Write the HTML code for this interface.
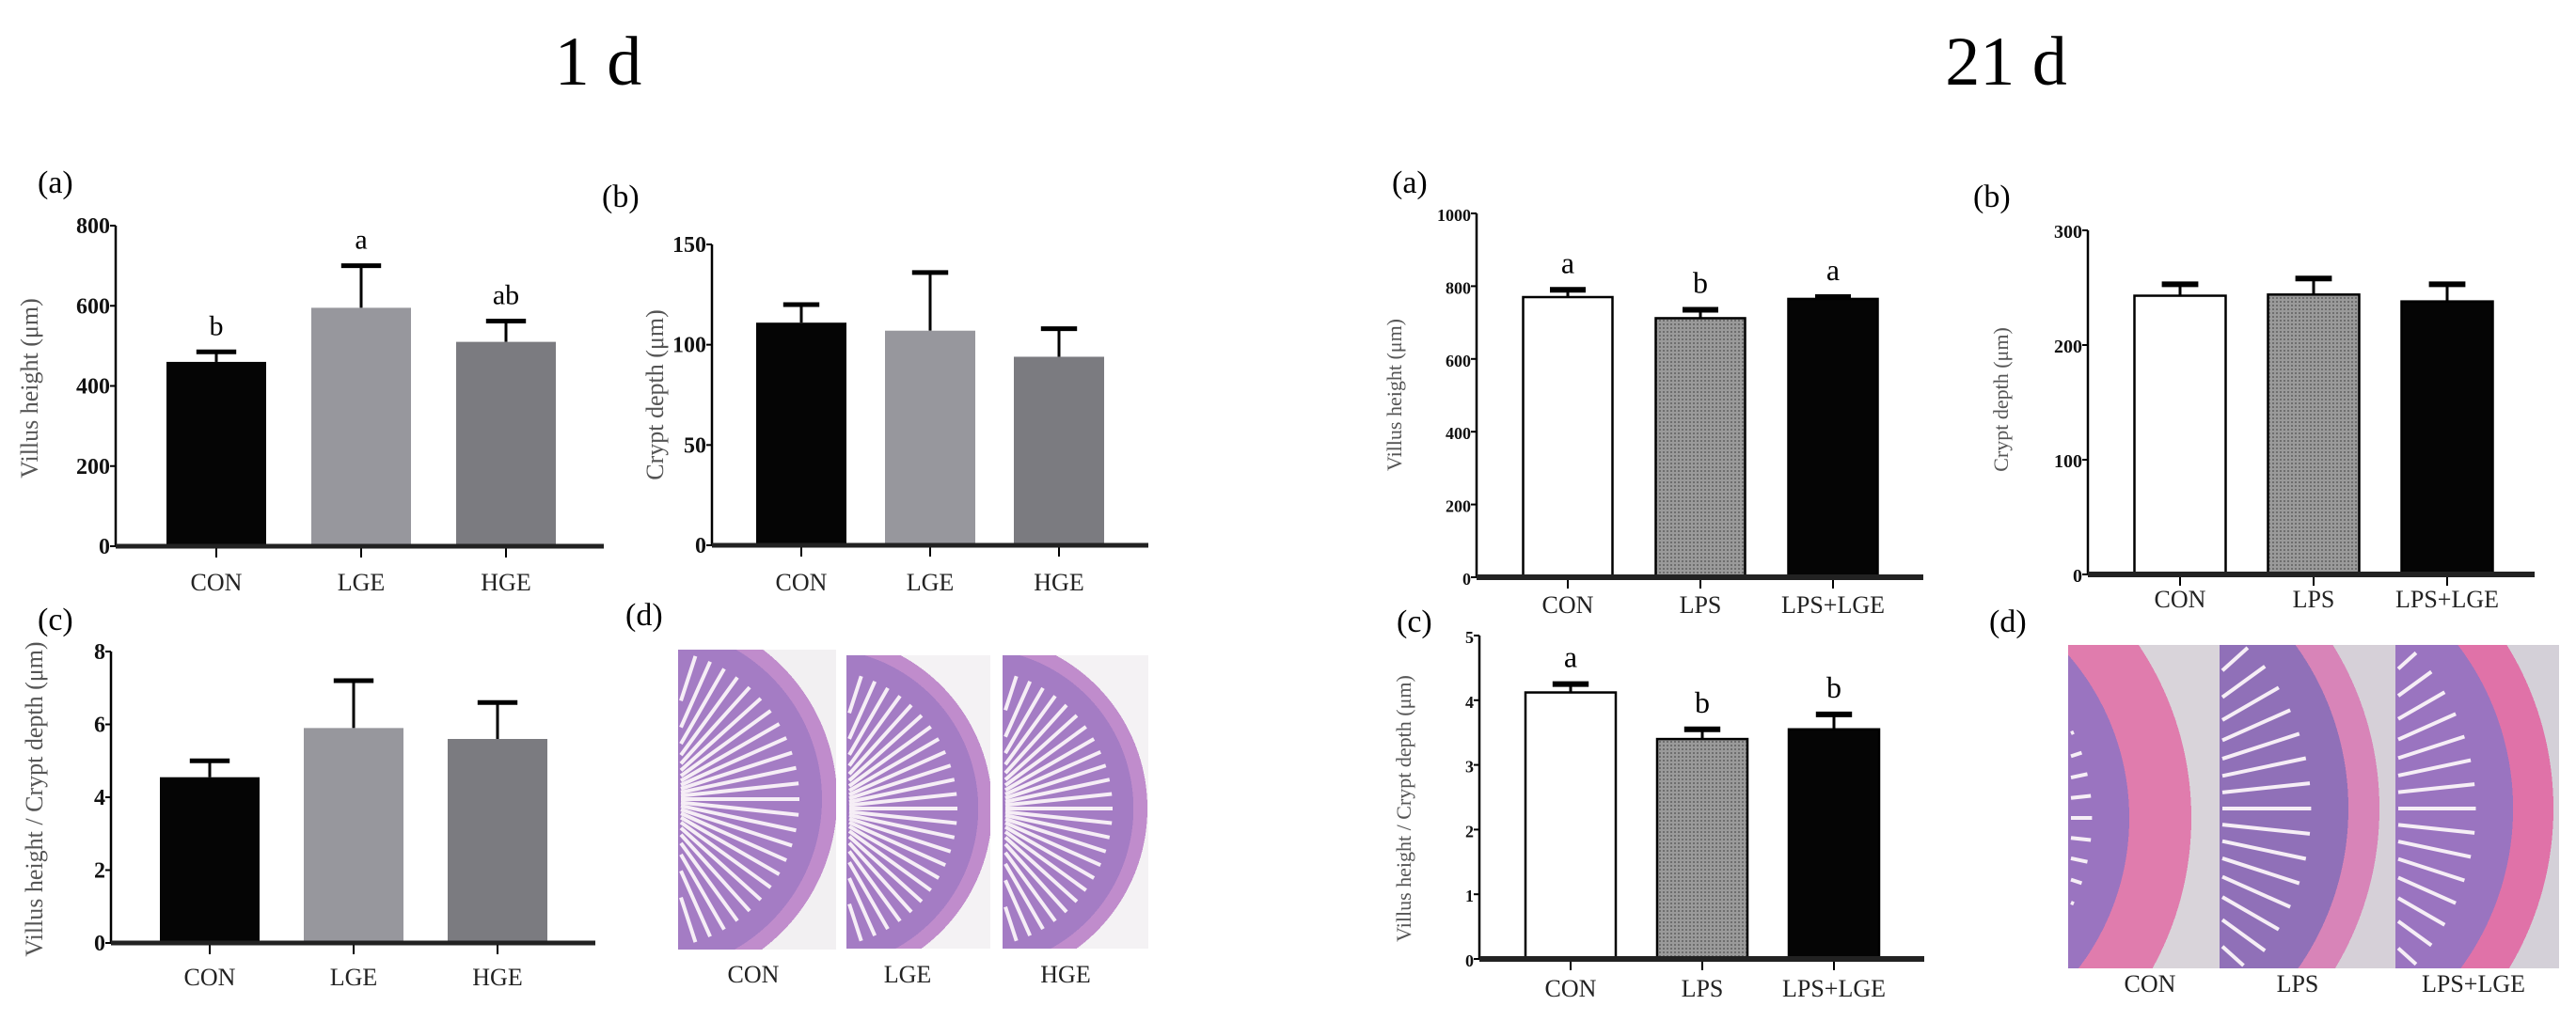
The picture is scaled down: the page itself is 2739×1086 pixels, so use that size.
<!DOCTYPE html>
<html><head><meta charset="utf-8"><style>
html,body{margin:0;padding:0;background:#fff;width:2739px;height:1086px;overflow:hidden}
svg{display:block}
text{font-family:"Liberation Serif",serif}
</style></head><body>
<svg id="fig" width="2739" height="1086" viewBox="0 0 2739 1086" xmlns="http://www.w3.org/2000/svg">
<text x="636" y="90" font-size="74" text-anchor="middle">1 d</text>
<text x="2133" y="90" font-size="74" text-anchor="middle">21 d</text>
<defs id="defs">
<pattern id="stip" width="4" height="4" patternUnits="userSpaceOnUse"><rect width="4" height="4" fill="#9a9a9a"/><rect width="2" height="2" fill="#6e6e6e"/></pattern>
</defs>
<g id="charts"></g>
<g id="micro"></g>
</svg>
<script>
// ---- data ----
const cats1d = ["CON","LGE","HGE"];
const cats21d = ["CON","LPS","LPS+LGE"];
const vh1d = [460, 595, 510];
const vh1dErr = [485, 700, 562];
const vh1dLetters = ["b","a","ab"];
const cd1d = [111, 107, 94];
const cd1dErr = [120, 136, 108];
const ratio1d = [4.55, 5.9, 5.6];
const ratio1dErr = [5.0, 7.2, 6.6];
const vh21d = [770, 712, 765];
const vh21dErr = [790, 735, 770];
const vh21dLetters = ["a","b","a"];
const cd21d = [243, 244, 238];
const cd21dErr = [253, 258, 253];
const ratio21d = [4.12, 3.4, 3.55];
const ratio21dErr = [4.25, 3.55, 3.78];
const ratio21dLetters = ["a","b","b"];
const ticks1dA = [0,200,400,600,800];
const ticks1dB = [0,50,100,150];
const ticks1dC = [0,2,4,6,8];
const ticks21dA = [0,200,400,600,800,1000];
const ticks21dB = [0,100,200,300];
const ticks21dC = [0,1,2,3,4,5];

const NS="http://www.w3.org/2000/svg";
const root=document.getElementById('charts');
function mk(tag,attrs,parent){const e=document.createElementNS(NS,tag);for(const k in attrs)e.setAttribute(k,attrs[k]);(parent||root).appendChild(e);return e;}

function chart(c){
  const g=mk('g',{});
  
  
  const max=c.ticks[c.ticks.length-1];
  const y=v=>c.y0-(v/max)*(c.y0-c.yTop);
  const bw=c.bw;
  const xc=i=>c.x1+c.gap*i;
  const pl=mk('text',{x:c.lx,y:c.ly,'font-size':34},g);pl.textContent=c.letter;
  
  
  const yl=mk('text',{x:0,y:0,'font-size':c.ylfs,fill:'#555','text-anchor':'middle',transform:`translate(${c.ylx},${c.yly}) rotate(-90)`},g);yl.textContent=c.ylabel;
  
  
  c.vals.forEach((v,i)=>{
    const cx=xc(i);
    const e=c.errs[i];
    const eb=mk('line',{x1:cx,x2:cx,y1:y(v),y2:y(e),stroke:'#000','stroke-width':3},g);
    
    
    const cap=mk('line',{x1:cx-bw*0.2,x2:cx+bw*0.2,y1:y(e),y2:y(e),stroke:'#000','stroke-width':c.capw},g);
    
    
    const r=mk('rect',{x:cx-bw/2,y:y(v),width:bw,height:c.y0-y(v),fill:c.colors[i],stroke:c.stroke?'#000':'none','stroke-width':c.stroke?2.5:0},g);
    
    
    if(c.letters){const t=mk('text',{x:cx,y:y(e)-18,'font-size':c.letfs,'text-anchor':'middle'},g);t.textContent=c.letters[i];
      
      }
    const tk=mk('line',{x1:cx,x2:cx,y1:c.y0,y2:c.y0+12,stroke:'#000','stroke-width':2},g);
    
    
    const xl=mk('text',{x:cx,y:c.xly,'font-size':26,'text-anchor':'middle',fill:'#222'},g);xl.textContent=c.cats[i];
    
    
  });
  const ya=mk('line',{x1:c.ax,x2:c.ax,y1:c.yTop,y2:c.y0,stroke:'#000','stroke-width':2.5},g);
  
  
  const xa=mk('line',{x1:c.ax,x2:c.axEnd,y1:c.y0,y2:c.y0,stroke:'#222','stroke-width':c.xaw},g);
  
  
  c.ticks.forEach(t=>{
    const tl=mk('line',{x1:c.ax-6,x2:c.ax,y1:y(t),y2:y(t),stroke:'#000','stroke-width':2},g);
    
    
    const tt=mk('text',{x:c.ax-6,y:y(t)+8,'font-size':c.tfs,'text-anchor':'end','font-family':c.tfam,'font-weight':c.tfw,fill:'#111'},g);tt.textContent=t;
    
    
  });
}
const c1=['#050505','#97979d','#7b7b80'];
const c21=['#fff','url(#stip)','#050505'];
const sans='"Liberation Sans",sans-serif';
chart({name:'chart-1d-villus-height',letter:'(a)',lx:40,ly:205,ylabel:'Villus height (μm)',ylx:40,yly:413,ylfs:26,cats:cats1d,vals:vh1d,errs:vh1dErr,letters:vh1dLetters,letfs:30,ticks:ticks1dA,ax:123,axEnd:642,y0:581,yTop:240,x1:230,gap:154,bw:106,colors:c1,capw:5,xaw:5,xly:628,tfs:24,tfam:sans,tfw:'bold'});
chart({name:'chart-1d-crypt-depth',letter:'(b)',lx:640,ly:220,ylabel:'Crypt depth (μm)',ylx:705,yly:420,ylfs:26,cats:cats1d,vals:cd1d,errs:cd1dErr,ticks:ticks1dB,ax:757,axEnd:1221,y0:580,yTop:260,x1:852,gap:137,bw:96,colors:c1,capw:5,xaw:5,xly:628,tfs:24,tfam:sans,tfw:'bold'});
chart({name:'chart-1d-ratio',letter:'(c)',lx:40,ly:670,ylabel:'Villus height / Crypt depth (μm)',ylx:45,yly:850,ylfs:26,cats:cats1d,vals:ratio1d,errs:ratio1dErr,ticks:ticks1dC,ax:118,axEnd:633,y0:1003,yTop:693,x1:223,gap:153,bw:106,colors:c1,capw:5,xaw:5,xly:1048,tfs:24,tfam:sans,tfw:'bold'});
chart({name:'chart-21d-villus-height',letter:'(a)',lx:1480,ly:205,ylabel:'Villus height (μm)',ylx:1490,yly:420,ylfs:22,cats:cats21d,vals:vh21d,errs:vh21dErr,letters:vh21dLetters,letfs:32,ticks:ticks21dA,ax:1570,axEnd:2045,y0:614,yTop:227,x1:1667,gap:141,bw:95,colors:c21,stroke:true,capw:6,xaw:6,xly:652,tfs:18,tfam:'"Liberation Serif",serif',tfw:'bold'});
chart({name:'chart-21d-crypt-depth',letter:'(b)',lx:2098,ly:220,ylabel:'Crypt depth (μm)',ylx:2135,yly:425,ylfs:22,cats:cats21d,vals:cd21d,errs:cd21dErr,ticks:ticks21dB,ax:2220,axEnd:2695,y0:611,yTop:245,x1:2318,gap:142,bw:97,colors:c21,stroke:true,capw:6,xaw:6,xly:646,tfs:20,tfam:'"Liberation Serif",serif',tfw:'bold'});
chart({name:'chart-21d-ratio',letter:'(c)',lx:1485,ly:672,ylabel:'Villus height / Crypt depth (μm)',ylx:1500,yly:860,ylfs:22,cats:cats21d,vals:ratio21d,errs:ratio21dErr,letters:ratio21dLetters,letfs:32,ticks:ticks21dC,ax:1573,axEnd:2046,y0:1020,yTop:676,x1:1670,gap:140,bw:96,colors:c21,stroke:true,capw:6,xaw:6,xly:1060,tfs:18,tfam:'"Liberation Serif",serif',tfw:'bold'});

// ---- micrographs (decorative, drawn strictly inside their rectangles) ----
const mroot=document.getElementById('micro');
const defs=document.getElementById('defs');
let gid=0;
function micro(x,y,w,h,cx,cy,r,bg,ring,inner,name,ringFrac){
  const id='rg'+(gid++);
  const grad=mk('radialGradient',{id:id,gradientUnits:'userSpaceOnUse',cx:cx,cy:cy,r:r},defs);
  const f=ringFrac;
  [[0,inner],[f,inner],[f,ring],[1,ring],[1,bg]].forEach(s=>mk('stop',{offset:s[0],'stop-color':s[1]},grad));
  const g=mk('g',{},mroot);
  
  
  mk('rect',{x:x,y:y,width:w,height:h,fill:`url(#${id})`},g);
  for(let i=0;i<60;i++){const a=i*Math.PI/30;const dx=Math.cos(a),dy=Math.sin(a);
    const r0=r*0.1, r1=r*(f-0.12);
    // clip segment [r0,r1] to rect (inset by 3px)
    let tmin=r0,tmax=r1;
    const lim=[[dx,x+3-cx,x+w-3-cx],[dy,y+3-cy,y+h-3-cy]];
    let ok=true;
    lim.forEach(([d,lo,hi])=>{
      if(Math.abs(d)<1e-9){if(0<lo||0>hi)ok=false;return;}
      let t1=lo/d,t2=hi/d;if(t1>t2)[t1,t2]=[t2,t1];
      tmin=Math.max(tmin,t1);tmax=Math.min(tmax,t2);
    });
    if(!ok||tmax<=tmin)continue;
    mk('line',{x1:cx+dx*tmin,y1:cy+dy*tmin,x2:cx+dx*tmax,y2:cy+dy*tmax,stroke:'#f6eef6','stroke-width':4},g);}
}
micro(721,691,168,319,690,850,200,'#f2f0f2','#c08ccc','#a47cc4','micrograph-1d-con',0.92);
micro(900,697,153,312,870,860,185,'#f4f2f4','#c08ccc','#a47cc4','micrograph-1d-lge',0.92);
micro(1066,697,155,312,1035,860,185,'#f4f2f4','#c08ccc','#a47cc4','micrograph-1d-hge',0.92);
micro(2199,686,161,344,2000,870,330,'#d9d4da','#e07cad','#9a74c0','micrograph-21d-con',0.8);
micro(2360,686,187,344,2200,860,330,'#d6d0d8','#d884b8','#9070b8','micrograph-21d-lps',0.9);
micro(2547,686,174,344,2385,860,330,'#d4d0d8','#e072a8','#9a74c0','micrograph-21d-lps-lge',0.87);
const ml=[[801,1045,'CON'],[965,1045,'LGE'],[1133,1045,'HGE'],[2286,1055,'CON'],[2443,1055,'LPS'],[2630,1055,'LPS+LGE']];
ml.forEach(m=>{const t=mk('text',{x:m[0],y:m[1],'font-size':26,'text-anchor':'middle',fill:'#222'},mroot);t.textContent=m[2];
  
  });
const dl=[[665,665],[2115,672]];
dl.forEach(d=>{const t=mk('text',{x:d[0],y:d[1],'font-size':34},mroot);t.textContent='(d)';
  
  });
</script>
</body></html>
